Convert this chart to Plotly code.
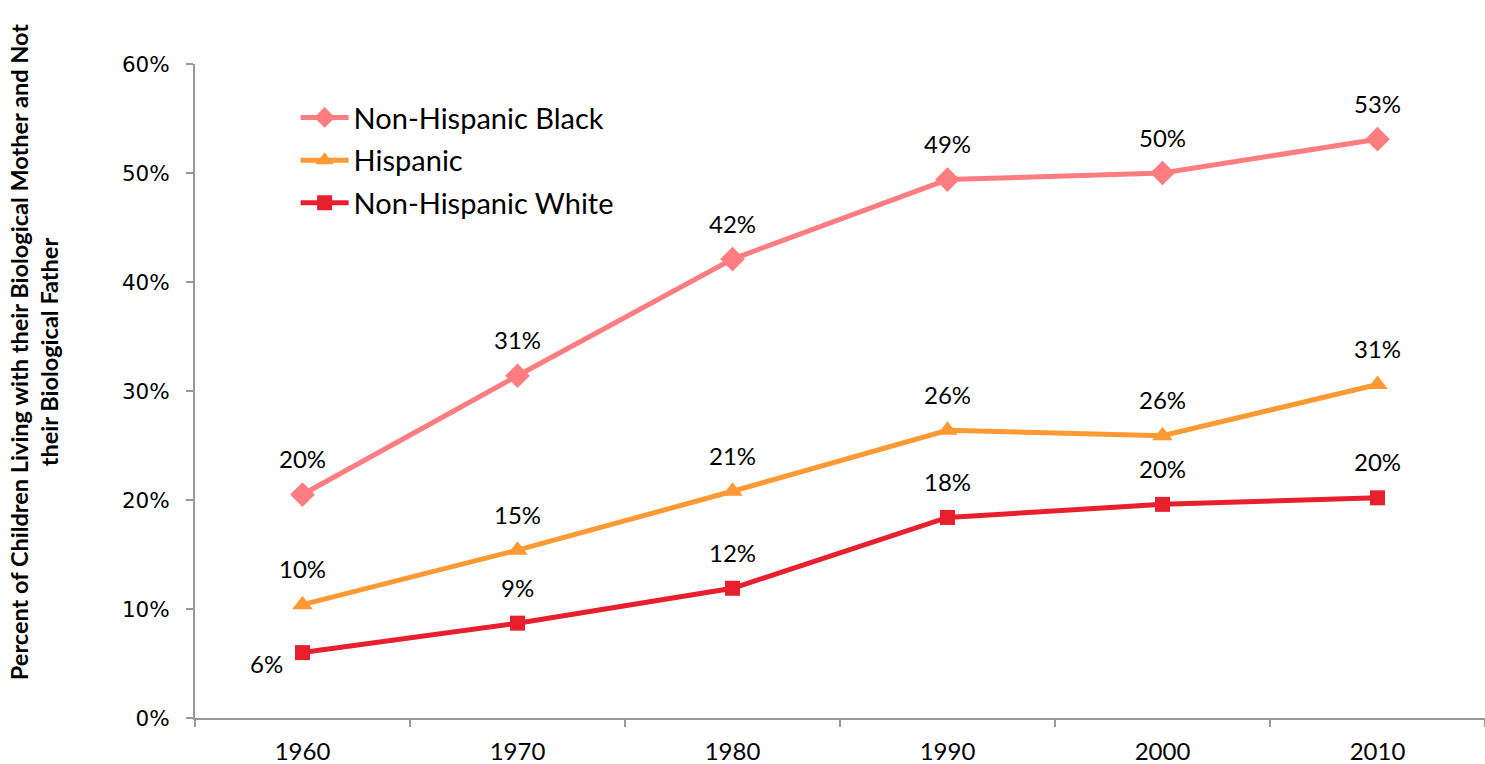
import plotly.graph_objects as go

years = ["1960", "1970", "1980", "1990", "2000", "2010"]
black = [20.5, 31.4, 42.1, 49.4, 50.0, 53.1]
hispanic = [10.4, 15.4, 20.8, 26.4, 25.9, 30.6]
white = [6.0, 8.7, 11.9, 18.4, 19.6, 20.2]
black_labels = ["20%", "31%", "42%", "49%", "50%", "53%"]
hispanic_labels = ["10%", "15%", "21%", "26%", "26%", "31%"]
white_labels = ["6%", "9%", "12%", "18%", "20%", "20%"]
y_ticks = [0, 10, 20, 30, 40, 50, 60]
y_tick_labels = ["0%", "10%", "20%", "30%", "40%", "50%", "60%"]

FONT = "Lato"
series = [
    ("Non-Hispanic Black", black, black_labels, "#FF7C80", "diamond", 19),
    ("Hispanic", hispanic, hispanic_labels, "#FF9933", "triangle-up", 18),
    ("Non-Hispanic White", white, white_labels, "#E8202E", "square", 15),
]

fig = go.Figure()
annotations = []
for name, vals, labels, color, sym, size in series:
    fig.add_trace(go.Scatter(
        x=years, y=vals, name=name, mode="lines+markers", legendgroup=name,
        line=dict(color=color, width=5),
        marker=dict(symbol=sym, size=size, color=color),
    ))
    for i, (v, lab) in enumerate(zip(vals, labels)):
        if name == "Non-Hispanic White" and i == 0:
            annotations.append(dict(x=i, y=v, text=lab, showarrow=False,
                                    xshift=-36, yshift=-11,
                                    font=dict(family=FONT, size=24, color="#000")))
        else:
            annotations.append(dict(x=i, y=v, text=lab, showarrow=False,
                                    yshift=36,
                                    font=dict(family=FONT, size=24, color="#000")))

annotations.append(dict(
    xref="paper", yref="paper", x=-0.1245, y=0.56, xanchor="center", yanchor="middle",
    text="<b>Percent of Children Living with their Biological Mother and Not<br>their Biological Father</b>",
    textangle=-90, showarrow=False,
    font=dict(family=FONT, size=23.5, color="#000"),
))

fig.update_layout(
    width=1485, height=764,
    margin=dict(l=195, r=0, t=64, b=46),
    plot_bgcolor="white", paper_bgcolor="white",
    font=dict(family=FONT, color="#000"),
    showlegend=True,
    legend=dict(x=0.078, y=0.957, xanchor="left", yanchor="top",
                font=dict(family=FONT, size=29), bgcolor="rgba(0,0,0,0)",
                tracegroupgap=2, itemwidth=48),
    annotations=annotations,
)
fig.update_xaxes(
    type="category", range=[-0.5, 5.5],
    showline=True, linecolor="#999", linewidth=2,
    ticks="outside", tickson="boundaries", ticklen=7, tickcolor="#999", tickwidth=2,
    showgrid=False, tickfont=dict(family=FONT, size=24), ticklabelstandoff=11,
)
fig.update_yaxes(
    range=[0, 60], tickvals=y_ticks, ticktext=y_tick_labels,
    showline=True, linecolor="#999", linewidth=2,
    ticks="outside", ticklen=7, tickcolor="#999", tickwidth=2,
    showgrid=False, zeroline=False, tickfont=dict(family="DejaVu Sans", size=21.5),
    ticklabelstandoff=12,
)

fig.write_html(
    "out.html",
    config={"displayModeBar": False},
    post_script="document.body.style.margin='0';document.body.style.overflow='hidden';",
)
